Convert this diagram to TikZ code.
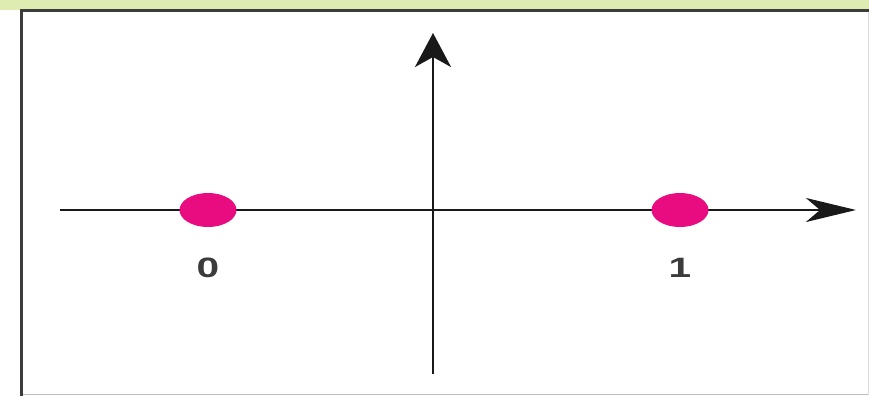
\documentclass[tikz,border=0pt]{standalone}
\usepackage{fontspec}
\setmainfont{Liberation Sans}
\usetikzlibrary{arrows.meta,shapes.geometric}
\definecolor{topgreen}{RGB}{222,236,178}
\definecolor{framegray}{RGB}{60,60,60}
\definecolor{dotpink}{RGB}{232,12,128}
\definecolor{axisblack}{RGB}{25,25,25}
\tikzset{
  dot/.style={ellipse,fill=dotpink,draw=none,minimum width=57pt,minimum height=34pt,inner sep=0pt},
  lbl/.style={font=\fontsize{28}{30}\selectfont\bfseries,text=axisblack!85,xscale=1.45,inner sep=0pt},
  axis/.style={line width=2.8pt,draw=axisblack}
}
\begin{document}
\begin{tikzpicture}[x=1pt,y=-1pt]
\useasboundingbox (0,0) rectangle (869,396);
\fill[white] (0,0) rectangle (869,396);
\fill[topgreen] (0,0) rectangle (869,10);
% frame
\draw[line width=1pt,draw=gray!50] (21,394.5) -- (869,394.5);
\draw[line width=0.8pt,draw=gray!30] (868,11) -- (868,395);
\draw[line width=3pt,draw=framegray] (21,396) -- (21,11) -- (869,11);
% axes
\coordinate (xl) at (60,210);
\coordinate (xr) at (856,210);
\coordinate (yb) at (433,374);
\coordinate (yt) at (433,33);
\draw[axis,-{Stealth[length=50pt,width=24pt,inset=14pt]}] (xl) -- (xr);
\draw[axis,-{Stealth[length=34pt,width=36pt,inset=10pt]}] (yb) -- (yt);
% points
\node[dot] (p0) at (208,210) {};
\node[dot] (p1) at (680,210) {};
\node[lbl] (l0) at (208,268) {0};
\node[lbl] (l1) at (680,268) {1};
\end{tikzpicture}
\end{document}
